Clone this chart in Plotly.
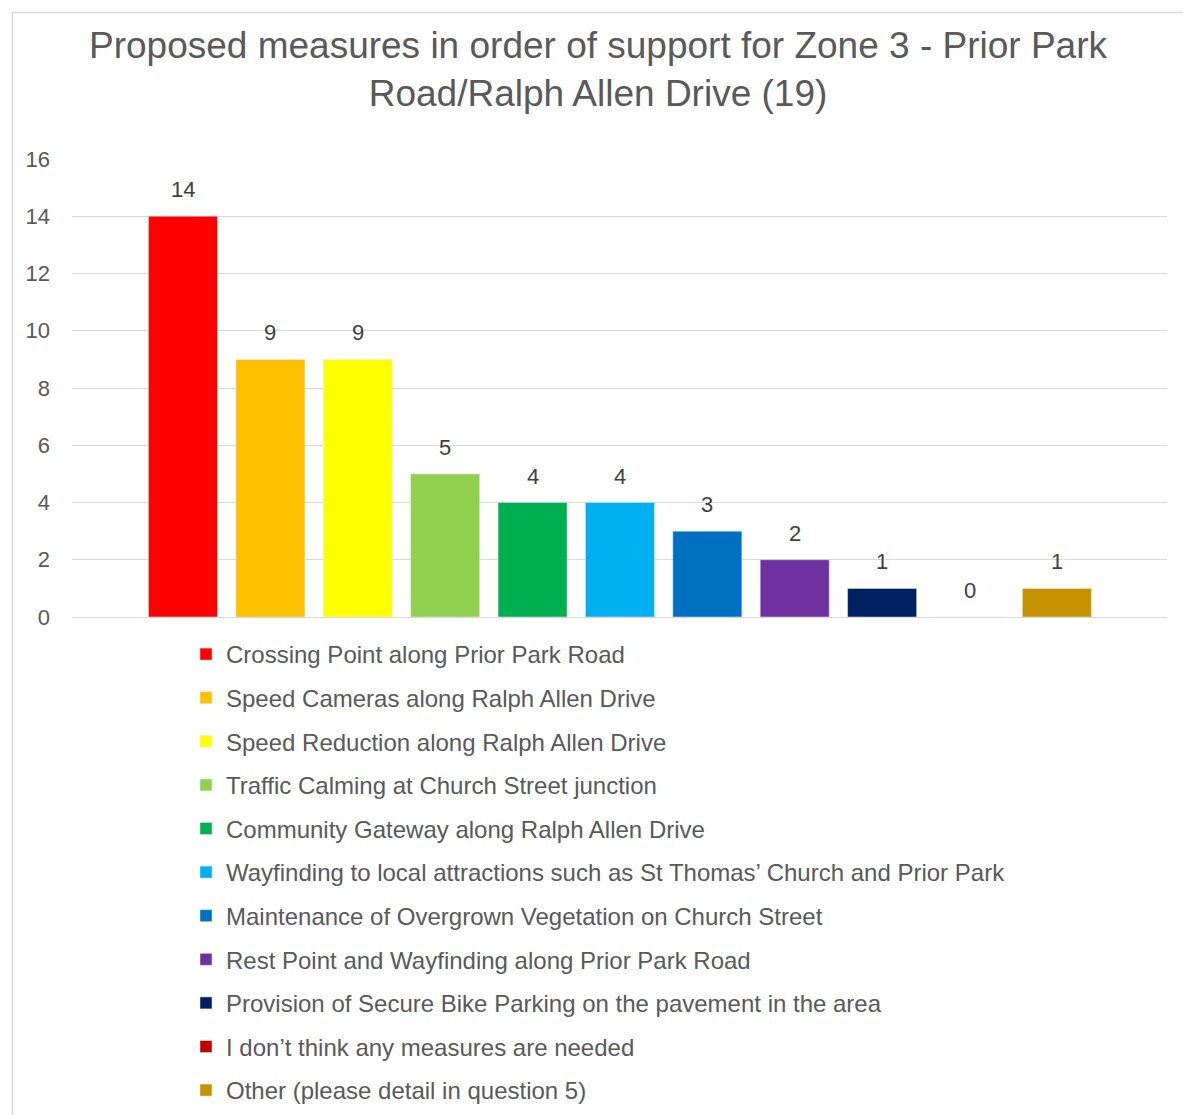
import plotly.graph_objects as go

categories = [
    "Crossing Point along Prior Park Road",
    "Speed Cameras along Ralph Allen Drive",
    "Speed Reduction along Ralph Allen Drive",
    "Traffic Calming at Church Street junction",
    "Community Gateway along Ralph Allen Drive",
    "Wayfinding to local attractions such as St Thomas\u2019 Church and Prior Park",
    "Maintenance of Overgrown Vegetation on Church Street",
    "Rest Point and Wayfinding along Prior Park Road",
    "Provision of Secure Bike Parking on the pavement in the area",
    "I don\u2019t think any measures are needed",
    "Other (please detail in question 5)",
]
values = [14, 9, 9, 5, 4, 4, 3, 2, 1, 0, 1]
colors = ["#FF0000", "#FFC000", "#FFFF00", "#92D050", "#00B050", "#00B0F0",
          "#0070C0", "#7030A0", "#002060", "#C00000", "#C59300"]
y_ticks = [0, 2, 4, 6, 8, 10, 12, 14, 16]

W, H = 1183, 1115
L, R, T, B = 72, 16, 159, 498
pw = W - L - R
ph = H - T - B
FONT = "Liberation Sans, Arial"

fig = go.Figure()
for i, (c, v, col) in enumerate(zip(categories, values, colors)):
    fig.add_trace(go.Bar(
        x=[i], y=[v], name=c, marker_color=col, width=0.79,
        legendgroup=f"g{i}",
    ))
    fig.add_annotation(
        x=i, y=v, xref="x", yref="y", text=str(v), showarrow=False,
        yanchor="bottom", yshift=12,
        font=dict(size=22, color="#404040", family=FONT),
    )

def px_x(p):
    return (p - L) / pw

def px_y(p):
    return (H - B - p) / ph

fig.add_shape(type="path", xref="paper", yref="paper",
              path=f"M {px_x(12.5)} {px_y(1115)} L {px_x(12.5)} {px_y(12.5)} L {px_x(1183)} {px_y(12.5)}",
              line=dict(color="#D9D9D9", width=1.5), layer="below")

fig.update_layout(
    width=W, height=H,
    margin=dict(l=L, r=R, t=T, b=B, autoexpand=False),
    paper_bgcolor="white", plot_bgcolor="white",
    font=dict(family=FONT, color="#595959"),
    title=dict(
        text="Proposed measures in order of support for Zone 3 - Prior Park<br>Road/Ralph Allen Drive (19)",
        x=598 / W, xanchor="center", xref="container",
        y=1 - 58 / H, yanchor="top", yref="container",
        font=dict(size=37, color="#595959"),
    ),
    xaxis=dict(range=[-1.27, 11.26], showticklabels=False, showgrid=False,
               zeroline=False, showline=False, fixedrange=True),
    yaxis=dict(range=[0, 16], tickvals=y_ticks, showgrid=True, gridcolor="#D9D9D9",
               gridwidth=1.3, zeroline=True, zerolinecolor="#D9D9D9", zerolinewidth=1.3,
               tickfont=dict(size=22, color="#595959"), ticklabelstandoff=21,
               showline=False),
    showlegend=True,
    legend=dict(x=186 / W, y=1 - 632 / H, xref="container", yref="container",
                xanchor="left", yanchor="top",
                orientation="v", tracegroupgap=9.4,
                font=dict(size=24, color="#595959"), bgcolor="rgba(0,0,0,0)",
                traceorder="grouped"),
    bargap=0.2,
)

fig.write_html("out.html")
